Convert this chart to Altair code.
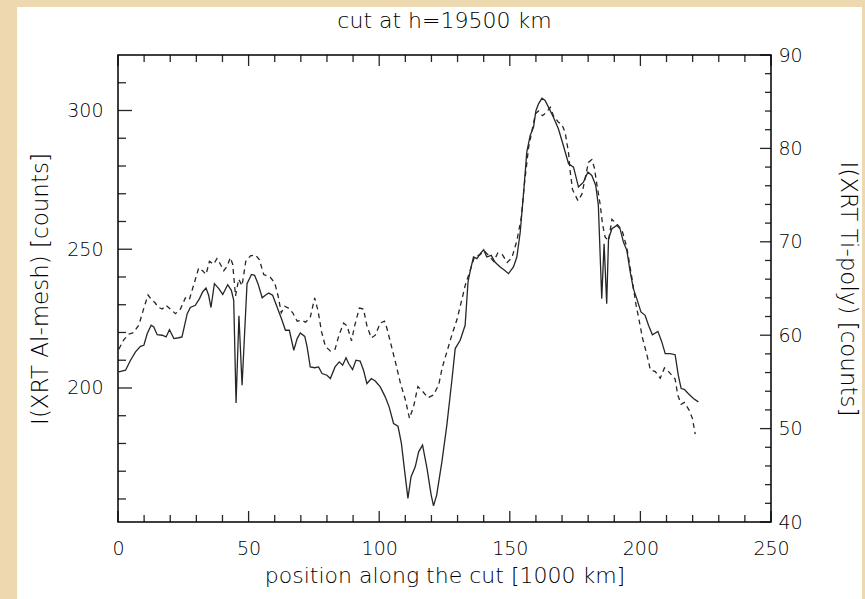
import altair as alt
import pandas as pd

# ---------------- data ----------------
# solid line: I(XRT Al-mesh) [counts], left axis
SOLID_AL_MESH = [
    (0.3, 205.8), (2.9, 206.4), (4.8, 210.0), (6.7, 213.0), (8.6, 215.0), (9.9, 215.4),
    (11.2, 219.6), (12.7, 222.6), (13.7, 222.0), (15.0, 219.2), (16.9, 219.0), (18.4, 218.4),
    (19.7, 221.0), (21.4, 217.8), (23.3, 218.1), (24.5, 218.4), (26.5, 226.8), (27.7, 229.0),
    (29.6, 229.8), (31.2, 232.2), (32.4, 234.6), (33.7, 236.0), (34.7, 233.4), (35.6, 229.0),
    (36.9, 237.6), (38.6, 235.8), (40.1, 233.7), (42.0, 237.2), (43.4, 235.2), (44.3, 231.6),
    (45.2, 194.6), (46.3, 226.0), (47.5, 201.0), (49.4, 237.6), (51.1, 240.9), (52.3, 240.6),
    (53.6, 237.6), (55.2, 232.5), (56.4, 233.4), (57.7, 234.2), (59.2, 233.4), (60.9, 229.2),
    (62.8, 224.4), (64.1, 220.8), (65.6, 220.8), (67.3, 213.6), (68.6, 217.8), (69.8, 219.8),
    (71.5, 218.6), (72.4, 214.8), (73.6, 207.6), (75.3, 207.3), (76.8, 207.6), (78.1, 205.2),
    (80.0, 204.6), (81.3, 203.4), (83.1, 207.6), (84.7, 209.4), (86.0, 208.2), (87.3, 210.9),
    (88.3, 208.8), (89.8, 206.6), (91.1, 210.0), (92.7, 209.7), (94.0, 206.4), (95.3, 201.6),
    (97.0, 203.4), (98.5, 202.5), (100.4, 200.4), (102.3, 196.8), (103.8, 193.2), (105.5, 187.2),
    (107.2, 186.2), (108.5, 180.0), (109.7, 170.4), (111.0, 160.2), (112.2, 168.0), (113.8, 171.6),
    (115.1, 177.0), (116.6, 179.4), (118.3, 171.0), (119.9, 161.4), (120.8, 157.5), (122.0, 161.4),
    (124.0, 173.4), (125.9, 186.6), (127.9, 203.4), (129.1, 214.2), (131.0, 217.2), (132.9, 222.6),
    (134.0, 238.2), (134.9, 242.4), (136.1, 247.2), (137.4, 246.6), (138.7, 248.4), (140.0, 249.8),
    (141.2, 247.2), (142.9, 247.8), (144.3, 245.4), (146.3, 243.6), (148.0, 242.4), (149.5, 241.2),
    (151.4, 243.6), (152.7, 247.2), (154.0, 256.2), (155.3, 270.6), (156.5, 285.0), (157.8, 291.0),
    (159.1, 294.0), (160.0, 299.9), (161.0, 302.4), (162.3, 304.4), (163.5, 303.6), (164.8, 301.2),
    (166.7, 297.6), (168.6, 293.4), (170.5, 287.4), (172.5, 280.8), (174.4, 279.6), (176.3, 272.4),
    (178.2, 274.2), (179.9, 277.8), (181.4, 276.6), (182.9, 273.0), (183.9, 265.8), (185.2, 232.2),
    (186.1, 252.0), (187.1, 230.4), (187.8, 253.8), (189.1, 257.4), (191.0, 258.6), (192.2, 257.4),
    (193.5, 252.6), (194.8, 249.6), (196.1, 241.8), (197.3, 235.8), (198.6, 232.2), (200.2, 227.4),
    (201.8, 226.2), (203.1, 222.6), (204.6, 219.2), (206.7, 220.4), (208.2, 216.6), (209.5, 212.4),
    (211.4, 212.4), (213.3, 212.0), (214.5, 204.6), (215.6, 199.8), (216.8, 199.5), (218.3, 198.0),
    (220.3, 196.2), (222.2, 195.0),
]

# dashed line: I(XRT Ti-poly) [counts], right axis
DASHED_TI_POLY = [
    (0.3, 58.5), (2.2, 59.5), (4.1, 60.1), (6.0, 60.3), (8.0, 61.1), (9.9, 62.9), (11.5, 64.3),
    (12.8, 63.8), (14.1, 63.5), (15.4, 63.0), (16.9, 62.8), (18.4, 63.2), (20.1, 62.8), (22.0, 62.3),
    (23.9, 62.8), (25.8, 64.0), (27.3, 63.8), (29.0, 65.4), (30.9, 67.2), (32.4, 66.9), (33.7, 66.5),
    (35.0, 67.9), (36.6, 67.6), (37.9, 68.2), (39.2, 67.6), (40.5, 66.9), (41.8, 67.4), (43.0, 68.3),
    (43.9, 67.6), (45.0, 64.2), (46.2, 66.0), (47.5, 65.3), (48.9, 67.9), (50.7, 68.5), (52.6, 68.6),
    (54.1, 68.1), (55.8, 66.5), (58.3, 66.2), (60.0, 65.6), (61.3, 64.2), (62.5, 62.4), (63.8, 63.1),
    (65.3, 62.9), (66.9, 62.4), (68.6, 61.5), (70.2, 61.6), (71.8, 61.4), (73.6, 61.9), (75.3, 64.0),
    (76.6, 62.6), (77.9, 60.4), (79.4, 58.8), (81.3, 58.3), (83.1, 58.5), (84.7, 60.1), (86.4, 61.3),
    (87.7, 61.0), (89.4, 59.4), (90.6, 61.0), (92.4, 62.9), (94.0, 62.8), (95.3, 61.0), (97.0, 59.7),
    (98.5, 60.0), (100.4, 61.3), (102.0, 61.5), (102.9, 60.8), (104.7, 58.8), (106.4, 56.9),
    (108.1, 54.9), (110.0, 53.1), (111.6, 51.1), (113.2, 52.4), (114.8, 54.5), (116.6, 54.0),
    (118.7, 53.3), (120.8, 53.6), (122.8, 54.7), (124.1, 56.5), (126.0, 58.3), (127.9, 60.1),
    (129.8, 61.7), (131.8, 64.0), (133.0, 65.4), (134.9, 67.0), (136.5, 68.4), (138.5, 68.6),
    (140.3, 69.0), (142.0, 68.5), (143.8, 67.9), (145.4, 68.8), (147.2, 68.6), (149.0, 67.8),
    (150.8, 68.3), (152.7, 70.1), (154.4, 72.6), (155.6, 76.2), (157.2, 80.1), (158.5, 81.9),
    (159.8, 83.7), (161.0, 84.0), (162.5, 83.5), (163.8, 83.8), (165.5, 84.4), (166.7, 83.5),
    (168.6, 82.8), (169.9, 82.6), (171.2, 81.7), (172.5, 79.5), (173.1, 77.6), (174.0, 75.6),
    (176.1, 74.4), (177.6, 75.1), (180.1, 78.5), (181.4, 78.8), (182.4, 77.9), (183.3, 76.2),
    (184.6, 74.0), (185.5, 71.9), (186.5, 70.5), (187.8, 70.1), (189.1, 72.4), (191.0, 71.9),
    (192.9, 71.3), (194.8, 69.4), (196.7, 66.2), (198.3, 63.3), (199.3, 61.9), (200.8, 59.7),
    (202.5, 57.9), (203.8, 56.3), (205.7, 56.1), (207.6, 55.4), (209.2, 56.5), (210.8, 56.1),
    (213.3, 55.3), (214.3, 53.6), (215.6, 52.6), (216.8, 52.8), (218.6, 52.0), (219.9, 51.1),
    (221.0, 49.4),
]

TITLE = "cut at h=19500 km"
X_TITLE = "position along the cut [1000 km]"
Y_LEFT_TITLE = "I(XRT Al-mesh) [counts]"
Y_RIGHT_TITLE = "I(XRT Ti-poly) [counts]"

X_DOMAIN = [0, 250]
Y_LEFT_DOMAIN = [151.7, 320]
Y_RIGHT_DOMAIN = [40, 90]

X_LABELS = [0, 50, 100, 150, 200, 250]
X_MINOR = [v for v in range(10, 250, 10) if v % 50]
Y_LEFT_LABELS = [200, 250, 300]
Y_LEFT_MINOR = [v for v in range(160, 320, 10) if v % 50]
Y_RIGHT_LABELS = [40, 50, 60, 70, 80, 90]
Y_RIGHT_MINOR = [v for v in range(42, 90, 2) if v % 10]

# ---------------- layout ----------------
W, H = 653, 467
LEFT, TOP = 118, 55
FONT = "DejaVu Sans"
WEIGHT = 300
INK = "#262626"
TEXT = "#000000"
LABEL_SIZE = 19

solid_df = pd.DataFrame(SOLID_AL_MESH, columns=["pos", "al"])
dashed_df = pd.DataFrame(DASHED_TI_POLY, columns=["pos", "ti"])

xs = alt.Scale(domain=X_DOMAIN, nice=False, zero=False)
yl = alt.Scale(domain=Y_LEFT_DOMAIN, nice=False, zero=False)
yr = alt.Scale(domain=Y_RIGHT_DOMAIN, nice=False, zero=False)

X_AXIS = alt.Axis(
    orient="bottom", values=X_LABELS, title=X_TITLE, ticks=False, tickSize=0, domain=False,
    grid=False, labelFlush=False, labelFontSize=LABEL_SIZE, labelFont=FONT,
    labelFontWeight=WEIGHT, labelColor=TEXT, labelPadding=17, titleFontSize=22, titleFont=FONT,
    titleFontWeight=WEIGHT, titleColor=TEXT, titlePadding=7, labelOverlap=False, zindex=1,
)

one_row = alt.Data(values=[{"a": 1}])

panel = alt.Chart(one_row).mark_rect(fill="white").encode(
    x=alt.value(17 - LEFT), x2=alt.value(862 - LEFT),
    y=alt.value(7 - TOP), y2=alt.value(620 - TOP),
)

frame = alt.Chart(one_row).mark_rect(fill="transparent", stroke="black", strokeWidth=1.5).encode(
    x=alt.value(0), x2=alt.value(W), y=alt.value(0), y2=alt.value(H),
)

title = alt.Chart(one_row).mark_text(
    text=TITLE, font=FONT, fontSize=22, fontWeight=WEIGHT, color=TEXT, align="center",
    baseline="middle",
).encode(x=alt.value(W / 2), y=alt.value(21 - TOP))

solid = alt.Chart(solid_df).mark_line(color=INK, strokeWidth=1.3).encode(
    x=alt.X("pos:Q", scale=xs, axis=X_AXIS),
    y=alt.Y("al:Q", scale=yl, axis=alt.Axis(
        orient="left", values=Y_LEFT_LABELS, title=Y_LEFT_TITLE, ticks=False, tickSize=0,
        domain=False, grid=False, labelFontSize=LABEL_SIZE, labelFont=FONT,
        labelFontWeight=WEIGHT, labelColor=TEXT, labelPadding=15, titleFontSize=23,
        titleFont=FONT, titleFontWeight=WEIGHT, titleColor=TEXT, titlePadding=14,
        labelOverlap=False, zindex=1)),
)

dashed = alt.Chart(dashed_df).mark_line(color=INK, strokeWidth=1.3, strokeDash=[5, 4]).encode(
    x=alt.X("pos:Q", scale=xs, axis=X_AXIS),
    y=alt.Y("ti:Q", scale=yr, axis=alt.Axis(
        orient="right", values=Y_RIGHT_LABELS, title=Y_RIGHT_TITLE, ticks=False, tickSize=0,
        domain=False, grid=False, labelFontSize=LABEL_SIZE, labelFont=FONT,
        labelFontWeight=WEIGHT, labelColor=TEXT, labelPadding=7, titleFontSize=23,
        titleFont=FONT, titleFontWeight=WEIGHT, titleColor=TEXT, titlePadding=33,
        labelOverlap=False, zindex=1)),
)


def yticks(values, scale, x0, x1):
    return alt.Chart(pd.DataFrame({"v": values})).mark_rule(color=INK, strokeWidth=1.3).encode(
        y=alt.Y("v:Q", scale=scale, axis=None), x=alt.value(x0), x2=alt.value(x1))


def xticks(values, y0, y1):
    return alt.Chart(pd.DataFrame({"v": values})).mark_rule(color=INK, strokeWidth=1.3).encode(
        x=alt.X("v:Q", scale=xs, axis=X_AXIS), y=alt.value(y0), y2=alt.value(y1))


layers = [
    panel, solid, dashed,
    yticks(Y_LEFT_LABELS, yl, 0, 14), yticks(Y_LEFT_MINOR, yl, 0, 8),
    yticks(Y_RIGHT_LABELS, yr, W, W - 11), yticks(Y_RIGHT_MINOR, yr, W, W - 6),
    xticks(X_LABELS, H, H - 11), xticks(X_MINOR, H, H - 7),
    xticks(X_LABELS, 0, 11), xticks(X_MINOR, 0, 7),
    frame, title,
]

chart = alt.layer(*layers).resolve_scale(y="independent").resolve_axis(y="independent").properties(
    width=W, height=H,
    autosize=alt.AutoSizeParams(type="none"),
    padding={"left": LEFT, "top": TOP, "right": 865 - LEFT - W, "bottom": 599 - TOP - H},
    background="#ECD9B0",
).configure_view(stroke=None)

chart.save("out.html", embed_options={"renderer": "svg", "actions": False})
